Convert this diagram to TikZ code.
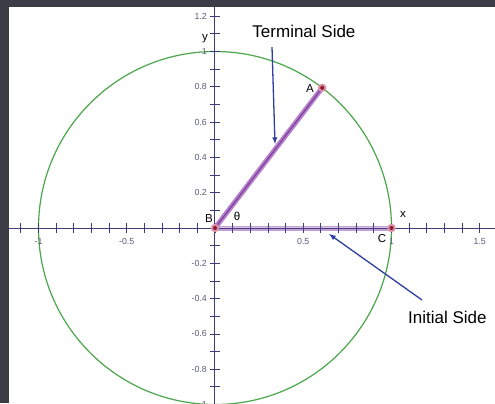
\documentclass[tikz,border=0pt]{standalone}
\usepackage{fontspec}
\setmainfont{Liberation Sans}
\definecolor{achse}{HTML}{3C3C78}
\definecolor{kreis}{HTML}{4CA64C}
\definecolor{schenkel}{HTML}{B57FCB}
\definecolor{schenkeldunkel}{HTML}{7E3F9A}
\definecolor{punkt}{HTML}{8E1B32}
\definecolor{halo}{HTML}{D98FA6}
\definecolor{pfeil}{HTML}{2E3FA0}
\definecolor{skala}{HTML}{5A5A80}
\definecolor{rand}{HTML}{3A3D46}
\begin{document}
\begin{tikzpicture}[>=latex,x=176.5pt,y=176.5pt,
  zahl/.style={font=\fontsize{8.8}{10}\selectfont,text=skala,inner sep=1pt},
  marke/.style={font=\fontsize{11.5}{13}\selectfont,inner sep=1pt},
  titel/.style={font=\fontsize{17}{20}\selectfont,inner sep=0pt}]
% Rahmen und Zeichenflaeche
\useasboundingbox[fill=rand] (-1.2181,-0.9915) rectangle (1.5864,1.2918);
\fill[white] (-1.167,-0.9915) rectangle (1.5864,1.252);
\begin{scope}
\clip (-1.167,-0.9915) rectangle (1.5864,1.252);
% Punkte
\coordinate (B) at (0,0);
\coordinate (A) at (52.6:1);
\coordinate (C) at (1,0);
% Einheitskreis
\draw[kreis,line width=1.2pt] (B) circle (1);
% Anfangsschenkel (unter der Achse)
\draw[schenkel!75,line width=5pt] (B) -- (C);
\draw[white!55!schenkel,line width=2.6pt] (B) -- (C);
% Achsen
\draw[achse,line width=1pt] (-1.2,0) -- (1.6,0);
\draw[achse,line width=1pt] (0,-1.0) -- (0,1.3);
% Teilstriche
\foreach \i in {-12,...,15}
  \draw[achse,line width=0.8pt] (\i/10,-0.026) -- (\i/10,0.026);
\foreach \i in {-10,...,12}
  \draw[achse,line width=0.8pt] (-0.03,\i/10) -- (0.03,\i/10);
% Beschriftung der Achsen
\foreach \v in {-1,-0.5,0.5,1,1.5}
  \node[zahl] (xz\v) at (\v,-0.074) {\v};
\foreach \v in {-1,-0.8,-0.6,-0.4,-0.2,0.2,0.4,0.6,0.8,1,1.2}
  \node[zahl,anchor=east] (yz\v) at (-0.04,\v) {\v};
\node[marke] (xname) at (1.065,0.074) {x};
\node[marke] (yname) at (-0.057,1.071) {y};
% Endschenkel
\draw[schenkel,line width=5pt] (B) -- (A);
\draw[schenkeldunkel,line width=1.2pt] (B) -- (A);
% Eckpunkte
\foreach \p in {A,B,C} {
  \fill[halo] (\p) circle (4.2pt);
  \fill[punkt] (\p) circle (2pt);
}
% Beschriftungen der Punkte
\node[marke] (Aname) at (0.538,0.788) {A};
\node[marke] (Bname) at (-0.034,0.051) {B};
\node[marke] (Cname) at (0.946,-0.062) {C};
\node[marke] (winkel) at (0.125,0.068) {θ};
% Hinweise mit Pfeilen
\node[titel] (tlabel) at (0.504,1.116) {Terminal Side};
\node[titel] (ilabel) at (1.317,-0.504) {Initial Side};
\coordinate (tstart) at (0.323,1.025);
\coordinate (tspitze) at (0.340,0.476);
\coordinate (istart) at (1.173,-0.408);
\coordinate (ispitze) at (0.646,-0.034);
\draw[->,pfeil,line width=1.3pt] (tstart) -- (tspitze);
\draw[->,pfeil,line width=1.3pt] (istart) -- (ispitze);
\end{scope}
\end{tikzpicture}
\end{document}
